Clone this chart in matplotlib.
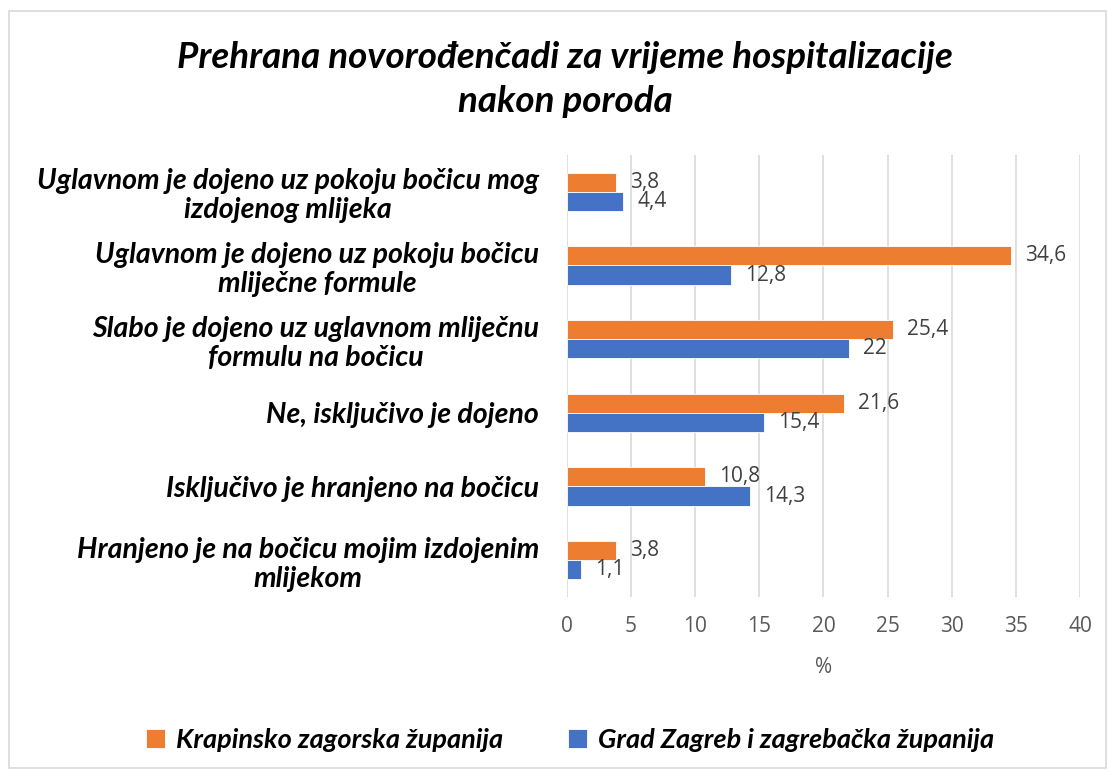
import matplotlib
matplotlib.use("Agg")
import matplotlib.pyplot as plt
from matplotlib.patches import Rectangle
import numpy as np

categories = [
    "Uglavnom je dojeno uz pokoju bočicu mog\nizdojenog mlijeka",
    "Uglavnom je dojeno uz pokoju bočicu\nmliječne formule",
    "Slabo je dojeno uz uglavnom mliječnu\nformulu na bočicu",
    "Ne, isključivo je dojeno",
    "Isključivo je hranjeno na bočicu",
    "Hranjeno je na bočicu mojim izdojenim\nmlijekom",
]
krapinsko = [3.8, 34.6, 25.4, 21.6, 10.8, 3.8]
zagreb = [4.4, 12.8, 22, 15.4, 14.3, 1.1]
series_names = ["Krapinsko zagorska županija", "Grad Zagreb i zagrebačka županija"]
xticks = [0, 5, 10, 15, 20, 25, 30, 35, 40]

FONT = ["Open Sans", "DejaVu Sans"]
LABFONT = ["Lato", "Open Sans", "DejaVu Sans"]
plt.rcParams['font.family'] = FONT

fig = plt.figure(figsize=(11.08, 7.71), dpi=100)
ax = fig.add_axes([0.5117, 0.2257, 0.4630, 0.5733])

n = len(categories)
y = np.arange(n)
h = 0.26
orange = "#ED7D31"
blue = "#4472C4"
b1 = ax.barh(y - h / 2, krapinsko, height=h, color=orange, edgecolor="white", linewidth=0.6, label=series_names[0], zorder=3)
b2 = ax.barh(y + h / 2, zagreb, height=h, color=blue, edgecolor="white", linewidth=0.6, label=series_names[1], zorder=3)

def fmt(v):
    return ("%g" % v).replace(".", ",")

for bars, vals in ((b1, krapinsko), (b2, zagreb)):
    for rect, v in zip(bars, vals):
        ax.annotate(fmt(v), xy=(v, rect.get_y() + rect.get_height() / 2),
                    xytext=(10, 0), textcoords="offset points",
                    ha="left", va="center", fontsize=15, color="#404040", zorder=4)

ax.set_xlim(0, 40)
ax.set_ylim(n - 0.5, -0.5)
ax.set_xticks(xticks)
ax.set_xticklabels([str(t) for t in xticks], fontsize=15, color="#595959")
ax.set_yticks(y)
ax.set_yticklabels(categories, fontsize=20.5, fontweight="bold", fontstyle="italic",
                   family=LABFONT, multialignment="center", linespacing=1.15)
ax.tick_params(axis="both", length=0)
ax.tick_params(axis="y", pad=20)
ax.tick_params(axis="x", pad=14)
ax.grid(axis="x", color="#D9D9D9", linewidth=1.2, zorder=0)
for s in ax.spines.values():
    s.set_visible(False)
ax.set_xlabel("%", fontsize=15, color="#595959", labelpad=14)

fig.text(0.51, 0.897, "Prehrana novorođenčadi za vrijeme hospitalizacije\nnakon poroda",
         ha="center", va="center", fontsize=26.5, fontweight="bold", fontstyle="italic",
         family=LABFONT, linespacing=1.38)

handles = [b1, b2]
fig.legend(handles, series_names, loc="center", bbox_to_anchor=(0.5145, 0.04), ncol=2,
           frameon=False, handlelength=0.7, handleheight=0.7, columnspacing=2.4,
           handletextpad=0.4,
           prop={"family": LABFONT, "weight": "bold", "style": "italic", "size": 19.5})

fig.patches.append(Rectangle((0.008, 0.004), 0.99, 0.982, transform=fig.transFigure,
                             fill=False, edgecolor="#D9D9D9", linewidth=1.2))

fig.savefig("out.png", dpi=100, facecolor="white")
